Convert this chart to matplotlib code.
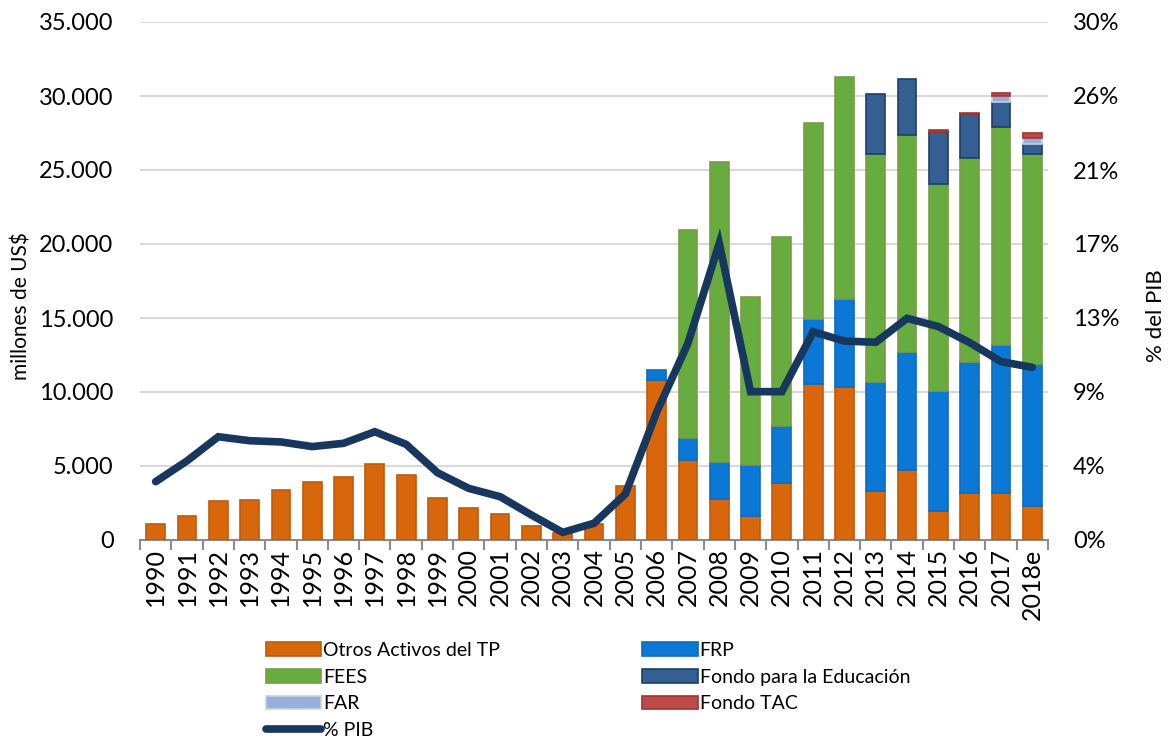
import matplotlib
matplotlib.use("Agg")
import matplotlib.pyplot as plt
import numpy as np
from matplotlib.ticker import FuncFormatter, FixedLocator
from matplotlib.patches import Patch
from matplotlib.lines import Line2D

plt.rcParams['font.family'] = ['Lato', 'DejaVu Sans']

years = ["1990", "1991", "1992", "1993", "1994", "1995", "1996", "1997", "1998", "1999",
         "2000", "2001", "2002", "2003", "2004", "2005", "2006", "2007", "2008", "2009",
         "2010", "2011", "2012", "2013", "2014", "2015", "2016", "2017", "2018e"]

otros = [1060, 1640, 2660, 2700, 3380, 3920, 4260, 5140, 4420, 2840,
         2180, 1740, 970, 450, 1080, 3670, 10810, 5400, 2770, 1620,
         3830, 10540, 10360, 3310, 4730, 1960, 3200, 3200, 2300]
frp = [0, 0, 0, 0, 0, 0, 0, 0, 0, 0,
       0, 0, 0, 0, 0, 0, 680, 1490, 2500, 3450,
       3870, 4390, 5900, 7340, 7950, 8110, 8850, 10000, 9610]
fees = [0, 0, 0, 0, 0, 0, 0, 0, 0, 0,
        0, 0, 0, 0, 0, 0, 0, 14060, 20270, 11350,
        12750, 13220, 15050, 15410, 14660, 13960, 13780, 14710, 14150]
educacion = [0] * 23 + [4050, 3810, 3540, 2930, 1690, 680]
far = [0] * 27 + [380, 450]
tac = [0] * 25 + [110, 120, 200, 290]

pib = [3.38, 4.58, 5.98, 5.75, 5.68, 5.41, 5.60, 6.27, 5.54, 3.90,
       2.99, 2.51, 1.45, 0.44, 0.97, 2.66, 7.40, 11.39, 17.18, 8.59,
       8.59, 12.06, 11.52, 11.45, 12.84, 12.36, 11.43, 10.33, 10.00]

series = [
    ("Otros Activos del TP", otros, "#D8670B", "#C25A0C"),
    ("FRP", frp, "#0A78D4", "#0A6CC0"),
    ("FEES", fees, "#66AC3F", "#7E9B45"),
    ("Fondo para la Educación", educacion, "#335F93", "#1F3E68"),
    ("FAR", far, "#96AEDA", "#C5D3EC"),
    ("Fondo TAC", tac, "#BE4B48", "#9E3532"),
]

fig = plt.figure(figsize=(11.73, 7.42), dpi=100)
ax = fig.add_axes([140 / 1173, 1 - 540 / 742, (1048 - 140) / 1173, (540 - 22) / 742])
ax2 = ax.twinx()

x = np.arange(len(years))
bottom = np.zeros(len(years))
handles = {}
for name, vals, fc, ec in series:
    vals = np.array(vals, dtype=float)
    idx = vals > 0
    ax.bar(x[idx], vals[idx], width=0.6, bottom=bottom[idx], color=fc,
           edgecolor=ec, linewidth=1.2, zorder=3)
    bottom = bottom + vals
    handles[name] = Patch(facecolor=fc, edgecolor=ec, linewidth=1.2)

ax2.plot(x, pib, color="#17375E", linewidth=5.5, solid_capstyle="round",
         solid_joinstyle="miter", zorder=5)

ax.set_xlim(-0.5, len(years) - 0.5)
ax.set_ylim(0, 35000)
ax.set_yticks(np.arange(0, 35001, 5000))
ax.yaxis.set_major_formatter(FuncFormatter(lambda v, p: f"{int(v):,}".replace(",", ".")))
ax.grid(axis="y", color="#D9D9D9", linewidth=1.5, zorder=0)
ax.set_axisbelow(True)

ax2.set_ylim(0, 30)
ax2.set_yticks(np.linspace(0, 30, 8))
ax2.yaxis.set_major_formatter(FuncFormatter(lambda v, p: f"{int(round(v))}%"))

for a in (ax, ax2):
    for s in ("top", "left", "right"):
        a.spines[s].set_visible(False)
    a.tick_params(axis="y", length=0, labelsize=17, colors="#000000")
ax2.spines["bottom"].set_visible(False)
ax.spines["bottom"].set_color("#8C8C8C")
ax.spines["bottom"].set_linewidth(1.5)
ax.tick_params(axis="y", pad=19)
ax2.tick_params(axis="y", pad=18)

ax.set_xticks(x)
ax.set_xticklabels(years, rotation=90, fontsize=18)
ax.tick_params(axis="x", which="major", length=0, pad=6)
ax.xaxis.set_minor_locator(FixedLocator(np.arange(-0.5, len(years), 1.0)))
ax.tick_params(axis="x", which="minor", length=7, width=1.5, color="#8C8C8C")

ax.set_ylabel("millones de US$", fontsize=15)
ax.yaxis.set_label_coords((21 - 140) / 908, (540 - 306) / 518)
ax2.set_ylabel("% del PIB", fontsize=16, rotation=90)
ax2.yaxis.set_label_coords((1156 - 140) / 908, (540 - 316) / 518)
ax2.yaxis.label.set_va("center")
ax.yaxis.label.set_va("center")

line_handle = Line2D([0], [0], color="#17375E", linewidth=5.5, solid_capstyle="round")
leg_handles = [handles["Otros Activos del TP"], handles["FEES"], handles["FAR"], line_handle,
               handles["FRP"], handles["Fondo para la Educación"], handles["Fondo TAC"]]
leg_labels = ["Otros Activos del TP", "FEES", "FAR", "% PIB",
              "FRP", "Fondo para la Educación", "Fondo TAC"]
fig.legend(leg_handles, leg_labels, loc="upper left", bbox_to_anchor=(266 / 1173, 1 - 642 / 742),
           ncol=2, frameon=False, fontsize=14, handlelength=2.85, handleheight=0.7,
           handletextpad=0.1, columnspacing=7.3, labelspacing=0.5, borderaxespad=0,
           borderpad=0)

fig.savefig("out.png", dpi=100)
